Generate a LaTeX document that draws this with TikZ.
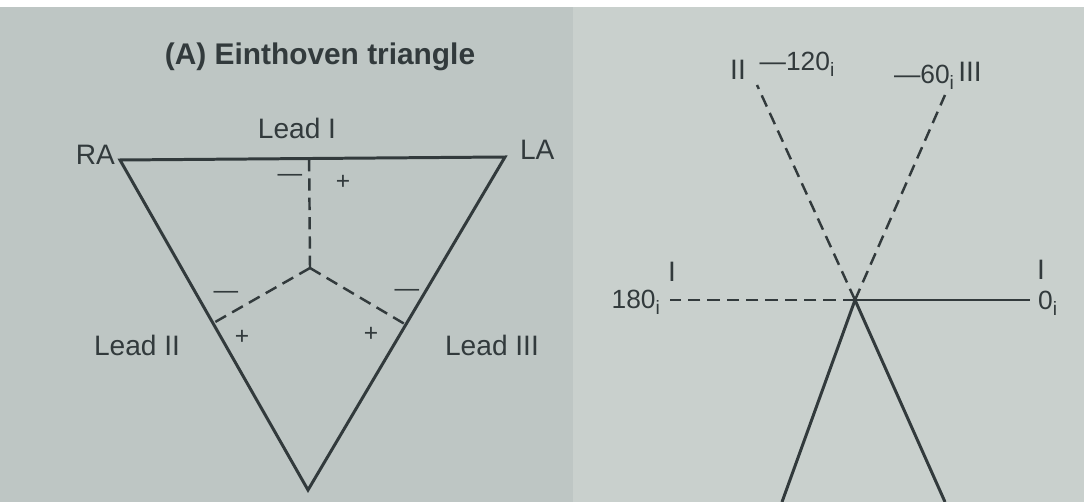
\documentclass[tikz,border=0pt]{standalone}
\usepackage{fontspec}
\setmainfont{Liberation Sans}
\usepackage{xcolor}
\usetikzlibrary{positioning, calc}
\definecolor{inkgrey}{RGB}{50,58,60}
\definecolor{paperleft}{RGB}{190,198,196}
\definecolor{paperright}{RGB}{201,208,205}
\tikzstyle{limb} = [
    inner sep=1pt,
    text=inkgrey,
    font=\fontsize{16}{18}\selectfont
]
\tikzstyle{title} = [
    inner sep=1pt,
    text=inkgrey,
    font=\fontsize{17}{20}\selectfont\bfseries
]
\tikzstyle{sign} = [
    inner sep=0pt,
    text=inkgrey,
    font=\fontsize{14}{16}\selectfont
]
\tikzstyle{angle} = [
    inner sep=1pt,
    text=inkgrey,
    font=\fontsize{15}{17}\selectfont
]
\tikzstyle{leadline} = [
    line width=1.7pt,
    draw=inkgrey
]
\tikzstyle{leaddash} = [
    line width=1.4pt,
    draw=inkgrey,
    dash pattern=on 7pt off 4pt
]
\newcommand{\angmark}[1]{#1\raisebox{-0.45ex}{\fontsize{11}{11}\selectfont i}}

\begin{document}
\begin{tikzpicture}[x=0.02cm, y=-0.02cm]
        % Paper
        \useasboundingbox (0,0) rectangle (1084,502);
        \fill[white] (0,0) rectangle (1084,7);
        \fill[paperleft] (0,7) rectangle (573,502);
        \fill[paperright] (573,7) rectangle (1084,502);

        % (A) Einthoven triangle
        \node[title] (head) at (320,57) {(A) Einthoven triangle};
        \coordinate (ra) at (120,160);
        \coordinate (la) at (505,157);
        \coordinate (ll) at (308,490);
        \coordinate (ctr) at (310,268);
        \draw[leadline, line join=miter] (ra) -- (la) -- (ll) -- cycle;
        \draw[leaddash] (ctr) -- ($(ra)!(ctr)!(la)$);
        \draw[leaddash] (ctr) -- ($(ra)!(ctr)!(ll)$);
        \draw[leaddash] (ctr) -- ($(la)!(ctr)!(ll)$);

        % Limb and lead labels
        \node[limb, anchor=east] (ranode) at (117,155) {RA};
        \node[limb, anchor=west] (lanode) at (518,150) {LA};
        \node[limb] (leadone) at (297,128) {Lead I};
        \node[limb] (leadtwo) at (137,345) {Lead II};
        \node[limb] (leadthree) at (492,345) {Lead III};

        % Polarity
        \node[sign] (minusone) at (290,178) {—};
        \node[sign] (plusone) at (343,182) {+};
        \node[sign] (minustwo) at (226,295) {—};
        \node[sign] (plustwo) at (242,337) {+};
        \node[sign] (minusthree) at (407,293) {—};
        \node[sign] (plusthree) at (371,334) {+};

        % Axes
        \coordinate (origin) at (855,300);
        \coordinate (end0) at (1030,300);
        \coordinate (end180) at (670,300);
        \coordinate (end120) at (757,85);
        \coordinate (end60) at (945,95);
        \coordinate (endsw) at (782,502);
        \coordinate (endse) at (945,502);
        \draw[leadline] (origin) -- (end0);
        \draw[leadline] (origin) -- (endsw);
        \draw[leadline] (origin) -- (endse);
        \draw[leaddash] (origin) -- (end180);
        \draw[leaddash] (origin) -- (end120);
        \draw[leaddash] (origin) -- (end60);

        % Axis labels
        \node[angle, anchor=east] (deg180) at (662,302) {\angmark{180}};
        \node[angle, anchor=west] (deg0) at (1036,303) {\angmark{0}};
        \node[angle] (deg120) at (797,64) {—\angmark{120}};
        \node[angle] (deg60) at (924,77) {—\angmark{60}};
        \node[limb] (axisoneleft) at (672,272) {I};
        \node[limb] (axisoneright) at (1041,270) {I};
        \node[limb] (axistwo) at (738,70) {II};
        \node[limb] (axisthree) at (970,72) {III};
    \end{tikzpicture}
\end{document}
